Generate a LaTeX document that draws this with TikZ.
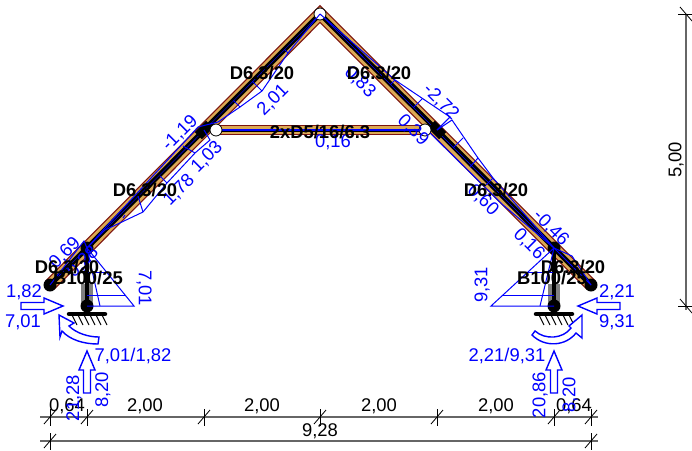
\documentclass[tikz,border=0pt]{standalone}
\usepackage{fontspec}
\setmainfont{Liberation Sans}
\definecolor{timber}{RGB}{219,168,84}
\definecolor{rim}{RGB}{125,20,15}
\begin{document}
\begin{tikzpicture}[x=1pt,y=-1pt,
val/.style={%
text=blue,
font=\fontsize{18.4}{19}\selectfont,
inner sep=0pt,
},
sec/.style={%
text=black,
font=\fontsize{18.4}{19}\selectfont\bfseries,
inner sep=0pt,
},
size/.style={%
text=black,
font=\fontsize{18.4}{19}\selectfont,
inner sep=0pt,
},
dimline/.style={%
draw=black!60,
line width=1.4pt,
},
tick/.style={%
draw=black,
line width=.8pt,
},
diag/.style={%
draw=blue,
line width=1pt,
},
joint/.style={%
circle,
fill=black,
minimum size=13pt,
inner sep=0pt,
},
hinge/.style={%
circle,
fill=white,
draw=black,
line width=.8pt,
minimum size=12pt,
inner sep=0pt,
},
rigid/.style={%
rectangle,
fill=black,
rotate=#1,
minimum width=16pt,
minimum height=10pt,
inner sep=0pt,
},
blockarrow/.pic={%
\draw[draw=blue,line width=1.4pt,fill=white] (0,0)--(8,19)--(3.5,19)--(3.5,42)--(-3.5,42)--(-3.5,19)--(-8,19)--cycle;
},
]
\useasboundingbox (0,0) rectangle (692,450);
\coordinate (apex) at (320,14);
\coordinate (endl) at (50,285);
\coordinate (endr) at (591,285);
\coordinate (kl) at (204,130);
\coordinate (kr) at (437,130);
\coordinate (tl) at (216,130);
\coordinate (tr) at (425,130);
\coordinate (el) at (87,248);
\coordinate (er) at (554,248);
\coordinate (sl) at (87,306);
\coordinate (sr) at (554,306);
%% Members
\draw[draw=rim,line width=13pt] (endl)--(apex)--(endr);
\draw[draw=timber,line width=10.5pt,miter limit=10] (endl)--(apex)--(endr);
\draw[draw=rim,line width=9.5pt] (tl)--(tr);
\draw[draw=timber,line width=7.5pt] (tl)--(tr);
\draw[draw=black,line width=3pt] (tl)--(tr);
\draw[draw=black,line width=5pt] (endl)--(el)--(kl)--(apex)--(kr)--(er)--(endr);
\draw[draw=blue,line width=.4pt] (endl)--(apex)--(endr);
\draw[draw=blue,line width=1.2pt] (tl)--(tr);
%% Columns
\draw[draw=black!50,line width=12pt] (87,284)--(87,306);
\draw[draw=black!50,line width=12pt] (554,284)--(554,306);
\draw[draw=black,line width=3.5pt] (el)--(sl);
\draw[draw=black,line width=3.5pt] (er)--(sr);
%% Supports
\foreach \x in {87,554}{%
\draw[draw=black,line width=4.5pt,line cap=round] (\x-18,314)--(\x+18,314);
\foreach \d in {-15,-9,...,15}{%
\draw[draw=black,line width=1pt] (\x+\d,315)--(\x+\d+5,325);
}
}
%% Joints
\node[joint](nl)at(endl){};
\node[joint](nr)at(endr){};
\node[joint](nel)at(el){};
\node[joint](ner)at(er){};
\node[joint](nsl)at(sl){};
\node[joint](nsr)at(sr){};
\node[rigid=45](nkl)at(kl){};
\node[rigid=-45](nkr)at(kr){};
\node[hinge](ntl)at(tl){};
\node[hinge](ntr)at(tr){};
\node[hinge](nap)at(apex){};
%% Moments left
\draw[diag] (apex)--(288,53)--(262,91)--(240,107)--(218,122)--(198,127)--(105,228)--(el);
\draw[diag] (kl)--(210,140)--(195,153)--(167,183)--(143,212)--(105,230)--(el);
\draw[diag] (288,53)--(284.5,49.5) (262,91)--(252.5,81.5) (240,107)--(233.5,100.5);
\draw[diag] (195,153)--(183,146) (167,183)--(160,176) (143,212)--(138,196) (123,218)--(125,215);
\draw[diag] (endl)--(84,241)--(el);
%% Moments right
\draw[diag] (apex)--(395,80)--(450,117)--(kr);
\draw[diag] (395,80)--(390.5,84.5) (422.5,98.5)--(413.5,107.5);
\draw[diag] (363,57)--(355,49) (kr)--(450,117);
\draw[diag] (kr)--(452,120)--(478,158)--(493,178)--(er);
\draw[diag] (463,138)--(453,148) (478,158)--(470,167) (493,178)--(486,185);
\draw[diag] (430,133)--(503,205)--(er);
\draw[diag] (er)--(endr);
\draw[diag] (er)--(572,256)--(endr);
%% Column diagrams
\draw[diag] (el)--(134,306)--(sl);
\draw[diag] (el)--(100,306);
\draw[diag] (87,272)--(106,272) (87,295)--(125,295);
\draw[diag] (er)--(491,306)--(sr);
\draw[diag] (er)--(540,306);
\draw[diag] (522,272)--(554,272) (503,295)--(554,295);
%% Loads
\pic[rotate=-90] at (63,306) {blockarrow};
\pic[rotate=90] at (578,306) {blockarrow};
\pic at (87,351) {blockarrow};
\pic at (554,351) {blockarrow};
\draw[draw=blue,line width=1.4pt,fill=white] (59,315)--(74,323)--(69,326) .. controls (76,333) and (88,337) .. (99,337)--(98,344) .. controls (84,344) and (70,340) .. (62,331)--(60,337)--cycle;
\draw[draw=blue,line width=1.4pt,fill=white] (582,315)--(582,338)--(576,333) .. controls (566,346) and (545,348) .. (532,335)--(535,331) .. controls (545,340) and (563,339) .. (571,328)--(569,326)--cycle;
%% Dimensions
\draw[dimline] (40,417)--(598,417);
\draw[dimline] (40,441)--(598,441);
\draw[dimline] (686,14)--(686,310);
\foreach \x in {50,87,204,320,437,554,591}{%
\draw[tick] (\x,409)--(\x,426);
\draw[tick] (\x-6,424)--(\x+6,410);
}
\foreach \x in {50,591}{%
\draw[tick] (\x,433)--(\x,450);
\draw[tick] (\x-6,448)--(\x+6,434);
}
\foreach \y in {14,306}{%
\draw[tick] (678,\y)--(692,\y);
\draw[tick] (680,\y-7)--(692,\y+7);
}
\node[size](d1)at(67,406){0,64};
\node[size](d2)at(145,406){2,00};
\node[size](d3)at(262,406){2,00};
\node[size](d4)at(379,406){2,00};
\node[size](d5)at(496,406){2,00};
\node[size](d6)at(574,406){0,64};
\node[size](d7)at(320,431){9,28};
\node[size,rotate=90](d8)at(676,160){5,00};
%% Values
\node[val,rotate=45](v1)at(273,100){2,01};
\node[val,rotate=45](v2)at(180,133){-1,19};
\node[val,rotate=45](v3)at(207,157){1,03};
\node[val,rotate=45](v4)at(179,190){1,78};
\node[val,rotate=45](v5)at(65,253){0,69};
\node[val,rotate=45](v6)at(83,262){0,28};
\node[val](v7)at(333,142){0,16};
\node[val,rotate=-45](v8)at(360,82){0,83};
\node[val,rotate=-45](v9)at(441,102){-2,72};
\node[val,rotate=-45](v10)at(413,130){0,39};
\node[val,rotate=-45](v11)at(483,200){0,60};
\node[val,rotate=-45](v12)at(551,228){-0,46};
\node[val,rotate=-45](v13)at(529,244){0,16};
\node[val,rotate=-90](v14)at(144,288){7,01};
\node[val,rotate=90](v15)at(482,285){9,31};
\node[val](v16)at(24,292){1,82};
\node[val](v17)at(23,322){7,01};
\node[val](v18)at(617,292){2,21};
\node[val](v19)at(617,322){9,31};
\node[val](v20)at(133,356){7,01/1,82};
\node[val](v21)at(507,356){2,21/9,31};
\node[val,rotate=90](v22)at(74,398){21,28};
\node[val,rotate=90](v23)at(103,390){8,20};
\node[val,rotate=90](v24)at(540,395){20,86};
\node[val,rotate=90](v25)at(570,395){8,20};
%% Sections
\node[sec](s1)at(262,73){D6.3/20};
\node[sec](s2)at(379,73){D6.3/20};
\node[sec](s3)at(145,190){D6.3/20};
\node[sec](s4)at(496,190){D6.3/20};
\node[sec](s5)at(67,267){D6.3/20};
\node[sec](s6)at(573,267){D6.3/20};
\node[sec](s7)at(88,278){B100/25};
\node[sec](s8)at(552,278){B100/25};
\node[sec](s9)at(320,132){2xD5/16/6.3};
\end{tikzpicture}
\end{document}
